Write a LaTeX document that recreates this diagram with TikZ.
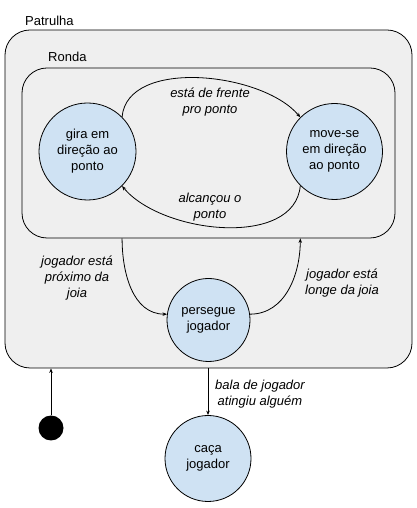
\documentclass[tikz,border=0pt]{standalone}
\usepackage{fontspec}
\setmainfont{Liberation Sans}
\definecolor{stateBlue}{HTML}{CFE2F3}
\definecolor{boxGray}{HTML}{EFEFEF}
\usetikzlibrary{arrows.meta, positioning, calc}
\tikzset{
  statebox/.style={draw=black, line width=0.8pt, fill=boxGray, rounded corners=25pt},
  boxname/.style={anchor=west, inner sep=0pt, font=\fontsize{13}{16}\selectfont},
  state/.style={circle, draw=black, line width=0.8pt, fill=stateBlue, inner sep=0pt,
    align=center, font=\fontsize{13}{16}\selectfont},
  trans/.style={-{Stealth[length=4.5pt, width=3.5pt]}, line width=0.8pt},
  guard/.style={align=center, inner sep=0pt, font=\fontsize{13}{16}\selectfont\itshape}
}

\begin{document}
\begin{tikzpicture}[x=1pt, y=1pt]
  \useasboundingbox (0,0) rectangle (416,508);

  \node[statebox, minimum width=407, minimum height=338] (patrulha) at (208.5,309) {};
  \node[boxname] (patrulhaname) at (25,487) {Patrulha};
  \node[statebox, minimum width=373, minimum height=170] (ronda) at (208.5,355) {};
  \node[boxname] (rondaname) at (48,451) {Ronda};

  \node[state, minimum size=97] (gira) at (87.5,356.5) {gira em\\direção ao\\ponto};
  \node[state, minimum size=96] (move) at (334.5,356.5) {move-se\\em direção\\ao ponto};
  \node[state, minimum size=83] (persegue) at (208.5,188) {persegue\\jogador};
  \node[state, minimum size=86] (caca) at (208,49.5) {caça\\jogador};
  \node[circle, fill=black, minimum size=25, inner sep=0pt] (inicio) at (51,80) {};

  \draw[trans] (gira.45) to[out=85, in=130, looseness=0.85] (move.135);
  \draw[trans] (move.-135) to[out=-95, in=-50, looseness=0.9] (gira.-45);
  \draw[trans] (gira.-45 |- ronda.south) to[out=-90, in=180] (persegue.172);
  \draw[trans] (persegue.8) to[out=0, in=-90] (move.-135 |- ronda.south);
  \draw[trans] (patrulha.south -| caca) -- (caca.north);
  \draw[trans] (inicio) -- (inicio |- patrulha.south);

  \node[guard] (frente) at (210,405.5) {está de frente\\pro ponto};
  \node[guard] (alcancou) at (210,301) {alcançou o\\ponto};
  \node[guard] (proximo) at (77,230) {jogador está\\próximo da\\joia};
  \node[guard] (longe) at (342,225) {jogador está\\longe da joia};
  \node[guard] (bala) at (260,114) {bala de jogador\\atingiu alguém};
\end{tikzpicture}
\end{document}
